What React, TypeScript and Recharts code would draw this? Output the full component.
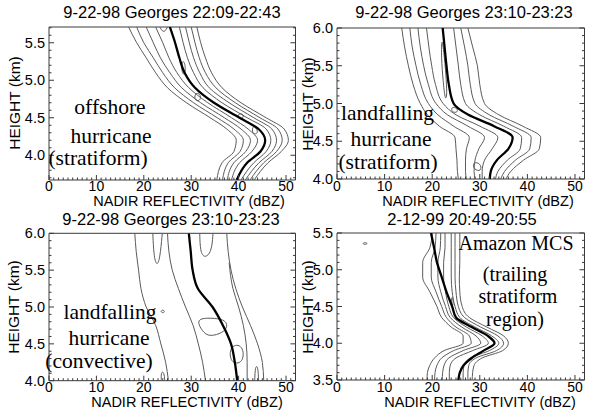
import React from 'react';
import { ComposedChart, Scatter, XAxis, YAxis } from 'recharts';

const SANS = '"Liberation Sans", Arial, Helvetica, sans-serif';
const SERIF = '"Liberation Serif", "Times New Roman", Times, serif';
const AXIS = '#3a3a3a';
const CONTOUR = '#5a5a5a';

// ---------- tick labels ----------
const xMajorLabels = [0, 10, 20, 30, 40, 50];
const xDomain: [number, number] = [0, 52];

// ---------- panel 1 : offshore hurricane (stratiform) ----------
const p1Heights = [5.71, 5.5, 5.3, 5.1, 4.9, 4.7, 4.5, 4.35, 4.2, 4.05, 3.9, 3.67];
const p1Mean = [25.5, 26.6, 27.5, 28.6, 30.8, 34.8, 40.2, 44.2, 45.6, 44.6, 41.8, 39.6];
const p1L4 = [16.8, 18.5, 20.5, 22.5, 25.0, 29.0, 34.0, 37.5, 39.5, 39.0, 36.5, 35.4];
const p1L3 = [18.5, 20.0, 22.0, 24.0, 26.5, 30.5, 35.5, 39.0, 41.0, 40.3, 37.8, 36.6];
const p1L2 = [20.5, 22.0, 23.5, 25.5, 28.0, 32.0, 37.0, 40.5, 42.5, 41.5, 39.0, 37.6];
const p1L1 = [22.5, 24.0, 25.3, 27.0, 29.5, 33.5, 38.5, 42.0, 44.0, 42.8, 40.2, 38.5];
const p1R1 = [27.5, 28.3, 29.2, 30.5, 32.5, 36.5, 41.8, 45.8, 46.8, 45.8, 43.2, 40.5];
const p1R2 = [28.8, 29.6, 30.5, 31.8, 33.8, 38.0, 43.2, 47.0, 48.0, 47.0, 44.3, 41.4];
const p1R3 = [30.0, 30.8, 31.7, 33.0, 35.2, 39.3, 44.5, 48.3, 49.2, 48.0, 45.3, 42.4];
const p1R4 = [31.2, 32.0, 33.0, 34.3, 36.5, 40.5, 45.8, 49.6, 50.5, 49.0, 46.2, 43.3];
const p1LoopAX = [28.3, 28.9, 28.5, 27.8];
const p1LoopAY = [5.29, 5.17, 5.04, 5.16];
const p1LoopBX = [31.2, 32.3, 31.4, 30.5];
const p1LoopBY = [4.85, 4.78, 4.7, 4.77];
const p1LoopCX = [40.2, 41.3, 40.5, 39.7];
const p1LoopCY = [4.57, 4.53, 4.47, 4.51];
const p1LoopDX = [43.0, 44.5, 42.7];
const p1LoopDY = [4.43, 4.29, 4.27];
const p1TopX = [23.4, 23.9, 24.5, 25.0];
const p1TopY = [5.71, 5.65, 5.65, 5.71];

// ---------- panel 2 : landfalling hurricane (stratiform) ----------
const p2Heights = [6.0, 5.75, 5.5, 5.25, 5.0, 4.85, 4.7, 4.55, 4.4, 4.25, 4.1, 4.0];
const p2Mean = [22.2, 22.6, 23.0, 23.5, 24.5, 27.6, 33.0, 36.9, 36.0, 33.6, 32.3, 32.1];
const p2L4 = [13.6, 14.2, 15.0, 16.0, 17.5, 19.0, 21.5, 24.8, 25.0, 25.2, 25.3, 25.5];
const p2L3 = [15.3, 15.8, 16.6, 17.6, 19.2, 21.2, 24.5, 27.8, 27.2, 27.0, 27.0, 27.2];
const p2L2 = [17.0, 17.5, 18.2, 19.2, 20.8, 23.2, 27.5, 31.0, 29.8, 29.0, 28.8, 29.0];
const p2L1 = [18.8, 19.3, 19.9, 20.7, 22.3, 25.0, 30.0, 33.8, 32.6, 31.0, 30.5, 30.5];
const p2R1 = [24.5, 25.0, 25.5, 26.0, 27.0, 30.0, 35.0, 38.8, 38.5, 35.8, 33.8, 33.3];
const p2R2 = [26.0, 26.8, 27.5, 28.0, 29.0, 32.0, 37.0, 40.8, 40.5, 37.5, 35.2, 34.4];
const p2R3 = [27.5, 28.5, 29.5, 30.0, 31.0, 34.0, 39.0, 42.8, 42.5, 39.2, 36.5, 35.5];
const p2InnerX = [22.0, 22.6, 23.0, 23.1, 22.7, 22.3, 21.9];
const p2InnerY = [5.92, 5.6, 5.3, 5.08, 5.05, 5.3, 5.6];
const p2SmallX = [24.0, 25.3, 25.4, 24.1];
const p2SmallY = [4.96, 4.94, 4.88, 4.88];
const p2LowX = [28.5, 30.2, 30.4, 28.7];
const p2LowY = [4.23, 4.21, 4.1, 4.12];

// ---------- panel 3 : landfalling hurricane (convective) ----------
const p3Heights = [6.0, 5.75, 5.5, 5.25, 5.0, 4.75, 4.5, 4.25, 4.0];
const p3Mean = [29.5, 29.9, 30.3, 31.4, 34.5, 36.7, 38.4, 39.2, 39.7];
const p3C1 = [18.1, 18.4, 18.9, 19.4, 20.5, 22.5, 23.6, 24.6, 25.2];
const p3C2 = [25.0, 25.3, 26.0, 27.3, 28.8, 30.4, 31.5, 32.4, 33.0];
const p3R1 = [37.5, 37.8, 38.4, 39.4, 40.8, 42.5, 44.0, 45.0, 45.3];
const p3R2Heights = [5.6, 5.25, 5.0, 4.75, 4.5, 4.25, 4.0];
const p3R2 = [38.0, 38.8, 40.0, 41.0, 41.6, 41.8, 41.8];
const p3CircleX = [39.6, 40.7, 41.1, 40.7, 39.6, 38.5, 38.1, 38.5];
const p3CircleY = [4.49, 4.46, 4.36, 4.26, 4.23, 4.26, 4.36, 4.46];
const p3BlobX = [31.8, 35.0, 37.4, 37.7, 36.0, 33.5, 32.3, 31.4];
const p3BlobY = [4.85, 4.85, 4.82, 4.71, 4.63, 4.6, 4.68, 4.78];
const p3DotX = [23.5, 24.0, 24.5, 24.0];
const p3DotY = [4.94, 4.965, 4.94, 4.915];
const p3ULeftX = [21.9, 22.1, 22.7, 23.4, 23.9];
const p3ULeftY = [6.0, 5.7, 5.55, 5.65, 6.0];
const p3URightX = [31.8, 31.9, 32.8, 34.3, 34.6];
const p3URightY = [6.0, 5.75, 5.66, 5.74, 6.0];
const p3LowLeftX = [23.7, 23.6, 24.3, 24.4];
const p3LowLeftY = [4.0, 4.12, 4.12, 4.0];
const p3LowRightX = [43.4, 43.5, 44.1, 44.2];
const p3LowRightY = [4.0, 4.2, 4.2, 4.0];

// ---------- panel 4 : Amazon MCS ----------
const p4Heights = [5.5, 5.3, 5.1, 4.9, 4.7, 4.5, 4.35, 4.22, 4.1, 4.0, 3.9, 3.8, 3.7, 3.6, 3.5];
const p4Mean = [19.75, 20.4, 21.0, 22.0, 23.0, 24.2, 25.0, 28.3, 31.7, 33.1, 30.8, 28.3, 26.6, 25.8, 25.5];
const p4L4 = [20.0, 19.5, 18.0, 18.0, 19.5, 21.0, 22.0, 24.0, 26.5, 26.5, 22.5, 20.5, 19.5, 19.0, 18.9];
const p4L3 = [20.8, 20.6, 19.8, 19.8, 20.8, 22.0, 23.0, 25.0, 27.8, 28.2, 24.5, 22.0, 21.0, 20.6, 20.5];
const p4L2 = [21.8, 21.7, 21.2, 21.2, 21.8, 22.8, 23.8, 26.2, 29.2, 30.2, 26.5, 23.5, 22.5, 22.2, 22.1];
const p4L1 = [22.7, 22.7, 22.4, 22.4, 22.8, 23.5, 24.5, 27.2, 30.5, 31.8, 28.5, 25.0, 23.8, 23.6, 23.6];
const p4R1 = [24.0, 24.0, 24.0, 24.0, 24.2, 24.8, 25.8, 29.0, 32.5, 34.0, 32.0, 28.0, 26.7, 26.5, 26.5];
const p4R2 = [24.8, 24.8, 24.8, 24.8, 25.0, 25.5, 26.8, 30.2, 33.8, 35.0, 33.5, 29.2, 27.7, 27.5, 27.5];
const p4R3 = [25.8, 25.8, 25.8, 25.7, 25.8, 26.3, 27.8, 31.5, 35.0, 36.0, 34.8, 30.5, 28.8, 28.5, 28.4];
const p4SpeckX = [5.3, 5.9, 6.5, 5.9];
const p4SpeckY = [5.357, 5.375, 5.357, 5.339];
const p4DashX = [24.0, 24.4, 24.4, 24.0];
const p4DashY = [4.63, 4.63, 4.5, 4.5];

type Kind = 'profile' | 'loop' | 'open';
type Curve = { xs: number[]; ys: number[]; kind: Kind };

const prof = (xs: number[], ys: number[]): Curve => ({ xs, ys, kind: 'profile' });
const loop = (xs: number[], ys: number[]): Curve => ({ xs, ys, kind: 'loop' });
const open = (xs: number[], ys: number[]): Curve => ({ xs, ys, kind: 'open' });

const toPts = (c: Curve) => c.xs.map((x, i) => ({ x, y: c.ys[i] }));
const noShape = () => <g />;

type PanelCfg = {
  id: string;
  box: [number, number, number, number];
  yDomain: [number, number];
  xLabelDy: number;
  contours: Curve[];
  mean: Curve;
};

const panels: PanelCfg[] = [
  {
    id: 'p1',
    box: [49, 295.5, 27, 180],
    yDomain: [3.67, 5.71],
    xLabelDy: 10.5,
    contours: [
      prof(p1L4, p1Heights), prof(p1L3, p1Heights), prof(p1L2, p1Heights), prof(p1L1, p1Heights),
      prof(p1R1, p1Heights), prof(p1R2, p1Heights), prof(p1R3, p1Heights), prof(p1R4, p1Heights),
      loop(p1LoopAX, p1LoopAY), loop(p1LoopBX, p1LoopBY), loop(p1LoopCX, p1LoopCY), loop(p1LoopDX, p1LoopDY),
      open(p1TopX, p1TopY),
    ],
    mean: prof(p1Mean, p1Heights),
  },
  {
    id: 'p2',
    box: [337, 584.5, 28, 179],
    yDomain: [4.0, 6.0],
    xLabelDy: 11.5,
    contours: [
      prof(p2L4, p2Heights), prof(p2L3, p2Heights), prof(p2L2, p2Heights), prof(p2L1, p2Heights),
      prof(p2R1, p2Heights), prof(p2R2, p2Heights), prof(p2R3, p2Heights),
      loop(p2InnerX, p2InnerY), loop(p2SmallX, p2SmallY), loop(p2LowX, p2LowY),
    ],
    mean: prof(p2Mean, p2Heights),
  },
  {
    id: 'p3',
    box: [49, 295.5, 233.3, 380.7],
    yDomain: [4.0, 6.0],
    xLabelDy: 10.8,
    contours: [
      prof(p3C1, p3Heights), prof(p3C2, p3Heights), prof(p3R1, p3Heights), prof(p3R2, p3R2Heights),
      loop(p3CircleX, p3CircleY), loop(p3BlobX, p3BlobY), loop(p3DotX, p3DotY),
      open(p3ULeftX, p3ULeftY), open(p3URightX, p3URightY),
      open(p3LowLeftX, p3LowLeftY), open(p3LowRightX, p3LowRightY),
    ],
    mean: prof(p3Mean, p3Heights),
  },
  {
    id: 'p4',
    box: [337, 584.5, 233, 380],
    yDomain: [3.5, 5.5],
    xLabelDy: 11.5,
    contours: [
      prof(p4L4, p4Heights), prof(p4L3, p4Heights), prof(p4L2, p4Heights), prof(p4L1, p4Heights),
      prof(p4R1, p4Heights), prof(p4R2, p4Heights), prof(p4R3, p4Heights),
      loop(p4SpeckX, p4SpeckY), loop(p4DashX, p4DashY),
    ],
    mean: prof(p4Mean, p4Heights),
  },
];

const xTicks = Array.from({ length: 53 }, (_, i) => i);

// axis band sizes (the axes occupy these bands just outside the plot box)
const WL = 40;
const WR = 2;
const HT = 2;
const HB = 20;

function Panel({ cfg }: { cfg: PanelCfg }) {
  const [l, r, t, b] = cfg.box;
  const k0 = Math.ceil(cfg.yDomain[0] * 10 - 1e-6);
  const k1 = Math.floor(cfg.yDomain[1] * 10 + 1e-6);
  const yTicks = Array.from({ length: k1 - k0 + 1 }, (_, i) => (k0 + i) / 10);
  const isMajorY = (v: number) => Math.round(v * 10) % 5 === 0;
  const isMajorX = (v: number) => xMajorLabels.includes(v);

  const bottomTick = (p: any) => {
    const v = p.payload.value;
    const major = isMajorX(v);
    return (
      <g>
        <line x1={p.x} x2={p.x} y1={p.y} y2={p.y - (major ? 5 : 2.5)} stroke={AXIS} strokeWidth={1} />
        {major && (
          <text x={p.x} y={p.y + cfg.xLabelDy} textAnchor="middle" fontSize={14} fontFamily={SANS} fill="#000">
            {v}
          </text>
        )}
      </g>
    );
  };
  const topTick = (p: any) => {
    const v = p.payload.value;
    const major = isMajorX(v);
    return <line x1={p.x} x2={p.x} y1={p.y} y2={p.y + (major ? 5 : 2.5)} stroke={AXIS} strokeWidth={1} />;
  };
  const leftTick = (p: any) => {
    const v = p.payload.value;
    const major = isMajorY(v);
    return (
      <g>
        <line x1={p.x} x2={p.x + (major ? 5 : 2.5)} y1={p.y} y2={p.y} stroke={AXIS} strokeWidth={1} />
        {major && (
          <text x={p.x - 4} y={p.y + 5} textAnchor="end" fontSize={14.5} fontFamily={SANS} fill="#000">
            {v.toFixed(1)}
          </text>
        )}
      </g>
    );
  };
  const rightTick = (p: any) => {
    const v = p.payload.value;
    const major = isMajorY(v);
    return <line x1={p.x} x2={p.x - (major ? 5 : 2.5)} y1={p.y} y2={p.y} stroke={AXIS} strokeWidth={1} />;
  };

  const curveType = (k: Kind) => (k === 'profile' ? 'monotoneY' : k === 'loop' ? 'basisClosed' : 'basis');

  return (
    <div style={{ position: 'absolute', left: 0, top: 0 }}>
      <ComposedChart
        width={589}
        height={410}
        margin={{ top: t - HT, left: l - WL, right: 589 - r - WR, bottom: 410 - b - HB }}
      >
        <XAxis
          xAxisId="b"
          type="number"
          dataKey="x"
          orientation="bottom"
          domain={xDomain}
          allowDataOverflow
          ticks={xTicks}
          interval={0}
          height={HB}
          tickSize={0}
          tickMargin={0}
          tickLine={false}
          axisLine={{ stroke: AXIS, strokeWidth: 1 }}
          tick={bottomTick}
        />
        <XAxis
          xAxisId="t"
          type="number"
          orientation="top"
          domain={xDomain}
          allowDataOverflow
          ticks={xTicks}
          interval={0}
          height={HT}
          tickSize={0}
          tickMargin={0}
          tickLine={false}
          axisLine={{ stroke: AXIS, strokeWidth: 1 }}
          tick={topTick}
        />
        <YAxis
          yAxisId="l"
          type="number"
          dataKey="y"
          orientation="left"
          domain={cfg.yDomain}
          allowDataOverflow
          ticks={yTicks}
          interval={0}
          width={WL}
          tickSize={0}
          tickMargin={0}
          tickLine={false}
          axisLine={{ stroke: AXIS, strokeWidth: 1 }}
          tick={leftTick}
        />
        <YAxis
          yAxisId="r"
          type="number"
          orientation="right"
          domain={cfg.yDomain}
          allowDataOverflow
          ticks={yTicks}
          interval={0}
          width={WR}
          tickSize={0}
          tickMargin={0}
          tickLine={false}
          axisLine={{ stroke: AXIS, strokeWidth: 1 }}
          tick={rightTick}
        />
        {cfg.contours.map((c, i) => (
          <Scatter
            key={cfg.id + 'c' + i}
            xAxisId="b"
            yAxisId="l"
            data={toPts(c)}
            fill="none"
            line={{ stroke: CONTOUR, strokeWidth: 1, fill: 'none' }}
            lineJointType={curveType(c.kind) as any}
            shape={noShape}
            isAnimationActive={false}
          />
        ))}
        <Scatter
          xAxisId="b"
          yAxisId="l"
          data={toPts(cfg.mean)}
          fill="none"
          line={{ stroke: '#000', strokeWidth: 2.3, fill: 'none' }}
          lineJointType="monotoneY"
          shape={noShape}
          isAnimationActive={false}
        />
      </ComposedChart>
    </div>
  );
}

type TextItem = { s: string; x: number; y: number };

const titles: TextItem[] = [
  { s: '9-22-98 Georges 22:09-22:43', x: 172, y: 18 },
  { s: '9-22-98 Georges 23:10-23:23', x: 464, y: 18 },
  { s: '9-22-98 Georges 23:10-23:23', x: 171, y: 225 },
  { s: '2-12-99 20:49-20:55', x: 462, y: 225 },
];
const xTitles: TextItem[] = [
  { s: 'NADIR REFLECTIVITY (dBZ)', x: 189, y: 205.5 },
  { s: 'NADIR REFLECTIVITY (dBZ)', x: 478, y: 206 },
  { s: 'NADIR REFLECTIVITY (dBZ)', x: 187, y: 406.5 },
  { s: 'NADIR REFLECTIVITY (dBZ)', x: 480, y: 406.5 },
];
const yTitles: TextItem[] = [
  { s: 'HEIGHT (km)', x: 14, y: 103 },
  { s: 'HEIGHT (km)', x: 307, y: 104 },
  { s: 'HEIGHT (km)', x: 13, y: 307 },
  { s: 'HEIGHT (km)', x: 307, y: 307 },
];
const notes: (TextItem & { size: number })[] = [
  { s: 'offshore', x: 110, y: 114, size: 21.5 },
  { s: 'hurricane', x: 111, y: 143, size: 21.5 },
  { s: '(stratiform)', x: 98, y: 165, size: 21.5 },
  { s: 'landfalling', x: 387.5, y: 120, size: 21.5 },
  { s: 'hurricane', x: 391, y: 146, size: 21.5 },
  { s: '(stratiform)', x: 388, y: 169, size: 21.5 },
  { s: 'landfalling', x: 110, y: 319, size: 21.5 },
  { s: 'hurricane', x: 109, y: 345, size: 21.5 },
  { s: '(convective)', x: 99, y: 368, size: 21.5 },
  { s: 'Amazon MCS', x: 516, y: 250, size: 20 },
  { s: '(trailing', x: 515, y: 281, size: 20 },
  { s: 'stratiform', x: 518, y: 303, size: 20 },
  { s: 'region)', x: 515, y: 326, size: 20 },
];

export default function App() {
  return (
    <div style={{ position: 'absolute', left: 0, top: 0, width: 589, height: 410, background: '#fff', overflow: 'hidden' }}>
      {panels.map((p) => (
        <Panel key={p.id} cfg={p} />
      ))}
      <svg width={589} height={410} style={{ position: 'absolute', left: 0, top: 0, pointerEvents: 'none' }}>
        {titles.map((tt, i) => (
          <text key={'t' + i} x={tt.x} y={tt.y} textAnchor="middle" fontSize={16.5} fontFamily={SANS} fill="#000">
            {tt.s}
          </text>
        ))}
        {xTitles.map((tt, i) => (
          <text key={'x' + i} x={tt.x} y={tt.y} textAnchor="middle" fontSize={14.5} fontFamily={SANS} fill="#000">
            {tt.s}
          </text>
        ))}
        {yTitles.map((tt, i) => (
          <text
            key={'y' + i}
            x={tt.x}
            y={tt.y}
            textAnchor="middle"
            dominantBaseline="central"
            transform={`rotate(-90 ${tt.x} ${tt.y})`}
            fontSize={15.5}
            fontFamily={SANS}
            fill="#000"
          >
            {tt.s}
          </text>
        ))}
        {notes.map((tt, i) => (
          <text key={'n' + i} x={tt.x} y={tt.y} textAnchor="middle" fontSize={tt.size} fontFamily={SERIF} fill="#000">
            {tt.s}
          </text>
        ))}
      </svg>
    </div>
  );
}
